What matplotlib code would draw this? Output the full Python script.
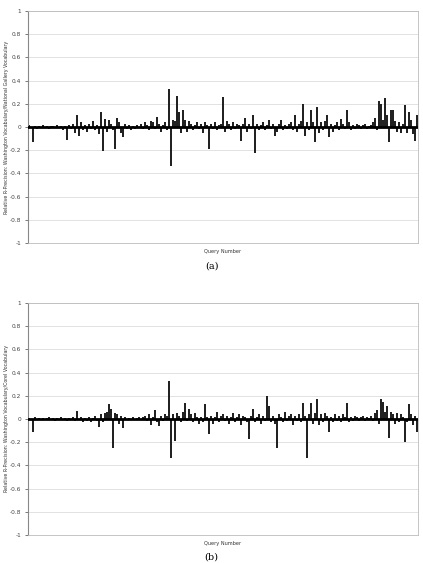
import matplotlib
matplotlib.use('Agg')
import matplotlib.pyplot as plt
import numpy as np

# relative R-precision per query (panel a: vs National Gallery, panel b: vs Corel)
rel_a = [0.02, -0.01, -0.13, 0.01, -0.02, 0.01, -0.01, 0.02, -0.01, 0.01, -0.02, 0.01, 0.01, -0.01, 0.02,
         -0.01, 0.01, -0.03, 0.01, -0.11, 0.02, -0.02, 0.03, -0.05, 0.10, -0.08, 0.04, -0.03, 0.02, -0.04,
         0.03, -0.02, 0.05, -0.03, 0.02, -0.06, 0.13, -0.21, 0.07, -0.04, 0.06, 0.03, -0.03, -0.19, 0.08,
         0.04, -0.05, -0.09, 0.03, -0.02, 0.02, -0.03, 0.01, -0.02, 0.02, -0.01, 0.03, -0.02, 0.04, 0.02,
         -0.03, 0.05, 0.04, -0.02, 0.09, 0.03, -0.04, 0.02, 0.04, -0.03, 0.33, -0.34, 0.06, 0.05, 0.27,
         0.13, -0.05, 0.15, 0.06, -0.04, 0.05, 0.03, -0.03, 0.02, 0.04, -0.02, 0.03, -0.05, 0.04, 0.02,
         -0.19, 0.03, -0.02, 0.04, -0.03, 0.02, 0.03, 0.26, -0.04, 0.05, 0.03, -0.03, 0.04, -0.02, 0.03,
         0.02, -0.12, 0.03, 0.08, -0.04, 0.03, -0.02, 0.10, -0.22, 0.03, -0.03, 0.02, 0.04, -0.03, 0.02,
         0.06, -0.02, 0.03, -0.08, -0.04, 0.03, 0.06, -0.03, 0.02, -0.02, 0.03, 0.04, -0.03, 0.10, -0.04,
         0.03, 0.05, 0.20, -0.08, 0.04, -0.03, 0.15, 0.04, -0.13, 0.17, -0.05, 0.04, -0.03, 0.05, 0.10,
         -0.09, 0.03, -0.04, 0.02, 0.04, -0.03, 0.07, 0.03, -0.02, 0.15, 0.04, -0.03, 0.02, -0.02, 0.03,
         0.02, -0.02, 0.02, 0.03, -0.02, 0.01, 0.02, 0.04, 0.08, -0.03, 0.22, 0.20, 0.06, 0.25, 0.10,
         -0.13, 0.15, 0.15, 0.05, -0.04, 0.04, -0.05, 0.03, 0.19, -0.05, 0.13, 0.06, -0.06, -0.12, 0.10]

rel_b = [0.01, -0.01, -0.11, 0.02, -0.01, 0.01, -0.01, 0.01, -0.01, 0.01, 0.02, -0.01, 0.01, -0.02, 0.01,
         -0.01, 0.02, -0.01, 0.01, -0.02, 0.01, -0.01, 0.02, -0.02, 0.07, -0.01, 0.02, -0.03, 0.01, -0.02,
         0.02, -0.03, 0.01, 0.03, -0.02, -0.07, 0.04, -0.03, 0.05, 0.06, 0.13, 0.09, -0.25, 0.05, 0.04,
         -0.04, 0.03, -0.08, 0.02, -0.01, 0.01, -0.01, 0.02, -0.01, 0.01, 0.02, -0.01, 0.02, 0.03, -0.02,
         0.04, -0.05, 0.02, 0.08, -0.03, -0.06, 0.03, -0.02, 0.04, 0.03, 0.33, -0.34, 0.04, -0.19, 0.05,
         0.03, -0.03, 0.06, 0.14, -0.02, 0.09, 0.04, -0.03, 0.05, 0.02, -0.04, 0.02, -0.03, 0.13, 0.02,
         -0.13, 0.03, -0.04, 0.02, 0.06, -0.03, 0.03, 0.04, -0.02, 0.03, -0.04, 0.02, 0.05, -0.03, 0.02,
         0.04, -0.05, 0.03, 0.02, -0.03, -0.17, 0.03, 0.09, -0.03, 0.02, 0.04, -0.04, 0.03, -0.02, 0.20,
         0.11, -0.03, 0.03, -0.04, -0.25, 0.04, 0.02, -0.03, 0.06, -0.02, 0.03, 0.04, -0.05, 0.03, -0.02,
         0.04, -0.03, 0.14, 0.03, -0.34, 0.04, 0.14, -0.04, 0.05, 0.17, -0.05, 0.04, -0.03, 0.05, 0.03,
         -0.11, 0.02, -0.03, 0.04, -0.02, 0.03, -0.03, 0.04, 0.02, 0.14, -0.03, 0.02, -0.02, 0.03, 0.02,
         -0.02, 0.02, 0.03, -0.02, 0.02, 0.01, 0.03, -0.02, 0.05, 0.08, -0.04, 0.17, 0.15, 0.06, 0.11,
         -0.16, 0.06, 0.04, -0.04, 0.05, -0.03, 0.04, 0.02, -0.20, -0.03, 0.13, 0.04, -0.05, 0.03, -0.11]

yticks = [-1, -0.8, -0.6, -0.4, -0.2, 0, 0.2, 0.4, 0.6, 0.8, 1]
ylab_a = 'Relative R-Precision: Washington Vocabulary/National Gallery Vocabulary'
ylab_b = 'Relative R-Precision: Washington Vocabulary/Corel Vocabulary'

fig = plt.figure(figsize=(4.23, 5.63), dpi=100)

def panel(rect, vals, ylab, cap, ylab_x, xl_y, cap_y):
    ax = fig.add_axes(rect)
    x = np.arange(len(vals))
    ax.bar(x, vals, width=0.55, color='#222222', linewidth=0)
    ax.axhline(0, color='black', lw=2.0, zorder=3)
    ax.set_xlim(-0.5, len(vals) - 0.5)
    ax.set_ylim(-1, 1)
    ax.set_yticks(yticks)
    ax.set_yticklabels(['%g' % t for t in yticks])
    ax.yaxis.grid(True, color='#dddddd', lw=0.6)
    ax.set_axisbelow(True)
    ax.set_xticks([])
    ax.tick_params(axis='y', labelsize=4.2, colors='#444444', length=2, width=0.5, pad=3)
    for s in ['top', 'right', 'bottom']:
        ax.spines[s].set_color('#bbbbbb')
        ax.spines[s].set_linewidth(0.6)
    ax.spines['left'].set_color('#888888')
    ax.spines['left'].set_linewidth(0.8)
    fig.text(ylab_x, rect[1] + rect[3] / 2, ylab, rotation=90, fontsize=3.4,
             ha='center', va='center', color='#333333')
    fig.text(0.525, xl_y, 'Query Number', fontsize=3.6, ha='center', va='center', color='#333333')
    fig.text(0.5, cap_y, cap, fontsize=7, ha='center', va='center', family='DejaVu Serif')
    return ax

panel([28/423, 1 - 243/563, 390/423, 232/563], rel_a, ylab_a, '(a)', 7/423, 1 - 252/563, 1 - 266/563)
panel([28/423, 1 - 535/563, 390/423, 232/563], rel_b, ylab_b, '(b)', 7/423, 1 - 544/563, 1 - 557/563)

plt.savefig('out.png', dpi=100)
